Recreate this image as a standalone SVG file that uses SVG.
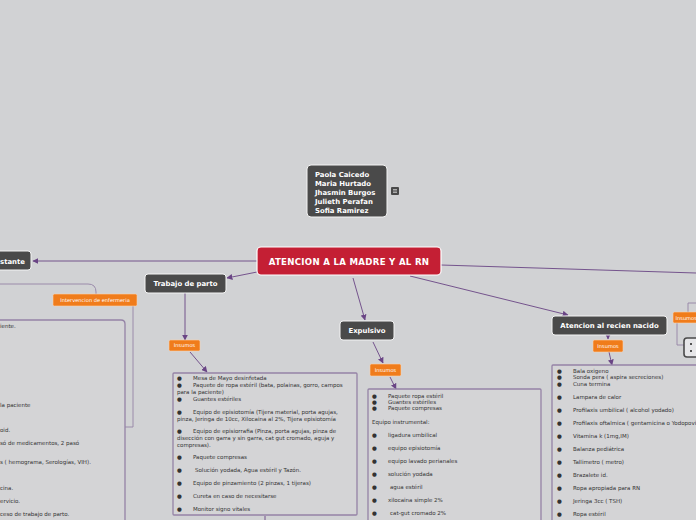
<svg xmlns="http://www.w3.org/2000/svg" width="696" height="520" viewBox="0 0 696 520">
<defs>
<marker id="ah" viewBox="0 0 10 10" refX="9" refY="5" markerWidth="6" markerHeight="6" orient="auto-start-reverse" markerUnits="userSpaceOnUse">
<path d="M0,0 L10,5 L0,10 z" fill="#6a4585"/>
</marker>
<style>
.bg{fill:#d1d2d4}
.node{fill:#4a4a4a;stroke:#f4f4f4;stroke-width:1}
.lbl{font-family:"DejaVu Sans",Verdana,sans-serif;font-weight:bold;fill:#ffffff;font-size:6.9px}
.or{fill:#f07c1b;stroke:#fbd3b0;stroke-width:0.6}
.olbl{font-family:"DejaVu Sans",Verdana,sans-serif;fill:#ffffff;font-size:5.1px}
.box{fill:#d4d4d6;stroke:#9583a6;stroke-width:1.3}
.t{font-family:"DejaVu Sans",Verdana,sans-serif;fill:#333333;font-size:5.5px}
.c{fill:none;stroke:#6a4585;stroke-width:0.9}
.cl{fill:none;stroke:#9583a6;stroke-width:0.9}
</style>
</defs>
<rect class="bg" x="0" y="0" width="696" height="520"/>

<g id="connectors">
<line class="c" x1="257" y1="261" x2="33" y2="261" marker-end="url(#ah)"/>
<line class="c" x1="441" y1="265" x2="696" y2="273"/>
<line class="c" x1="257" y1="272" x2="227" y2="278" marker-end="url(#ah)"/>
<line class="c" x1="353" y1="278" x2="365" y2="320" marker-end="url(#ah)"/>
<line class="c" x1="410" y1="276" x2="568" y2="315" marker-end="url(#ah)"/>
<line class="c" x1="185" y1="293" x2="185" y2="340" marker-end="url(#ah)"/>
<line class="c" x1="190" y1="352" x2="207" y2="372" marker-end="url(#ah)"/>
<line class="c" x1="373" y1="342" x2="383" y2="363" marker-end="url(#ah)"/>
<line class="c" x1="390" y1="377" x2="396" y2="389" marker-end="url(#ah)"/>
<line class="c" x1="608" y1="335" x2="608" y2="339" marker-end="url(#ah)"/>
<line class="c" x1="609" y1="352" x2="612" y2="365" marker-end="url(#ah)"/>
<line class="c" x1="265" y1="516" x2="265" y2="520"/>
<path class="cl" d="M0,284 H88 Q96,284 96,292 V294"/>
<path class="cl" d="M133,306 V427 H125"/>
<path class="cl" d="M688,312 V303 H696"/>
<path class="cl" d="M677,323 V345 H684"/>
</g>

<g id="names">
<rect class="node" x="307" y="165" width="80" height="52" rx="4"/>
<text class="lbl" x="315" y="177">Paola Caicedo</text>
<text class="lbl" x="315" y="186">Maria Hurtado</text>
<text class="lbl" x="315" y="195">Jhasmin Burgos</text>
<text class="lbl" x="315" y="204">Julieth Perafan</text>
<text class="lbl" x="315" y="213">Sofia Ramirez</text>
<rect x="391" y="187" width="8" height="8" rx="1" fill="#4a4a4a"/>
<path d="M393,189.5 H397 M393,191 H397 M393,192.5 H397" stroke="#d8d8d8" stroke-width="0.7"/>
</g>

<g id="central">
<rect x="257" y="247" width="184" height="28" rx="4" fill="#c41f34" stroke="#ffffff" stroke-width="1.2"/>
<text class="lbl" x="349" y="265" text-anchor="middle" style="font-size:8.6px;letter-spacing:0.3px">ATENCION A LA MADRE Y AL RN</text>
</g>

<g id="left-node">
<rect class="node" x="-6" y="251" width="37" height="19" rx="3"/>
<text class="lbl" x="25" y="263.5" text-anchor="end">stante</text>
</g>

<g id="trabajo">
<rect class="node" x="145" y="274" width="81" height="19" rx="3"/>
<text class="lbl" x="185.5" y="286" text-anchor="middle">Trabajo de parto</text>
</g>

<g id="expulsivo">
<rect class="node" x="340" y="321" width="54" height="19" rx="3"/>
<text class="lbl" x="367" y="333" text-anchor="middle">Expulsivo</text>
</g>

<g id="recien">
<rect class="node" x="552" y="316" width="115" height="19" rx="3"/>
<text class="lbl" x="609.5" y="328" text-anchor="middle">Atencion al recien nacido</text>
</g>

<g id="intervencion">
<rect class="or" x="53" y="294" width="84" height="12" rx="1.5"/>
<text class="olbl" x="95" y="301.9" text-anchor="middle">Intervencion de enfermeria</text>
</g>

<g id="insumos-trabajo">
<rect class="or" x="169" y="340" width="31" height="11" rx="1.5"/>
<text class="olbl" x="184.5" y="347.4" text-anchor="middle">Insumos</text>
</g>

<g id="insumos-expulsivo">
<rect class="or" x="370" y="364" width="31" height="12" rx="1.5"/>
<text class="olbl" x="385.5" y="371.9" text-anchor="middle">Insumos</text>
</g>

<g id="insumos-recien">
<rect class="or" x="593" y="340" width="30" height="12" rx="1.5"/>
<text class="olbl" x="608" y="347.9" text-anchor="middle">Insumos</text>
</g>

<g id="insumos-right">
<rect class="or" x="673" y="312" width="30" height="11" rx="1.5"/>
<text class="olbl" x="675.5" y="319.5">Insumos</text>
</g>

<g id="right-box">
<rect x="684" y="338" width="18" height="19" rx="3" fill="#e6e6e8" stroke="#4a4a4a" stroke-width="1.6"/>
<circle cx="691" cy="344" r="1" fill="#222"/>
<circle cx="691" cy="351" r="1" fill="#222"/>
</g>

<g id="left-list">
<path class="box" d="M-5,320 H121 Q125,320 125,324 V525 H-5 z"/>
<text class="t" x="0" y="328">iente.</text>
<text class="t" x="0" y="407">la paciente</text>
<text class="t" x="0" y="432">oid.</text>
<text class="t" x="0" y="445">só de medicamentos, 2 pasó</text>
<text class="t" x="0" y="464">s ( hemograma, Serologías, VIH).</text>
<text class="t" x="0" y="490">cina.</text>
<text class="t" x="0" y="503">ervicio.</text>
<text class="t" x="0" y="516">ceso de trabajo de parto.</text>
</g>

<g id="trabajo-list">
<rect class="box" x="173" y="373" width="184" height="142" rx="1"/>
<g class="t">
<text x="177" y="380">●</text><text x="193" y="380">Mesa de Mayo desinfetada</text>
<text x="177" y="387">●</text><text x="193" y="387">Paquete de ropa estéril (bata, polainas, gorro, campos</text>
<text x="177" y="394">para la paciente)</text>
<text x="177" y="401">●</text><text x="193" y="401">Guantes estériles</text>
<text x="177" y="414">●</text><text x="193" y="414">Equipo de episiotomía (Tijera material, porta agujas,</text>
<text x="177" y="421">pinza, Jeringa de 10cc, Xilocaina al 2%, Tijera episiotomía</text>
<text x="177" y="433">●</text><text x="193" y="433">Equipo de episiorrafia (Pinza, porta agujas, pinza de</text>
<text x="177" y="440">disección con garra y sin garra, cat gut cromado, aguja y</text>
<text x="177" y="447">compresas).</text>
<text x="177" y="459">●</text><text x="193" y="459">Paquete compresas</text>
<text x="177" y="472">●</text><text x="195" y="472">Solución yodada, Agua estéril y Tazón.</text>
<text x="177" y="485">●</text><text x="193" y="485">Equipo de pinzamiento (2 pinzas,  1 tijeras)</text>
<text x="177" y="498">●</text><text x="193" y="498">Cureta en caso de necesitarse</text>
<text x="177" y="511">●</text><text x="193" y="511">Monitor signo vitales</text>
</g>
</g>

<g id="expulsivo-list">
<rect class="box" x="368" y="389" width="173" height="136" rx="1"/>
<g class="t">
<text x="372" y="398">●</text><text x="388" y="398">Paquete ropa estéril</text>
<text x="372" y="404">●</text><text x="388" y="404">Guantes estériles</text>
<text x="372" y="410">●</text><text x="388" y="410">Paquete compresas</text>
<text x="372" y="424">Equipo instrumental:</text>
<text x="372" y="437">●</text><text x="388" y="437">ligadura umbilical</text>
<text x="372" y="450">●</text><text x="388" y="450">equipo episiotomía</text>
<text x="372" y="463">●</text><text x="388" y="463">equipo lavado perianales</text>
<text x="372" y="476">●</text><text x="388" y="476">solución yodada</text>
<text x="372" y="489">●</text><text x="390" y="489">agua estéril</text>
<text x="372" y="502">●</text><text x="388" y="502">xilocaina simple 2%</text>
<text x="372" y="515">●</text><text x="390" y="515">cat-gut cromado 2%</text>
</g>
</g>

<g id="recien-list">
<rect class="box" x="552" y="365" width="150" height="160" rx="1"/>
<g class="t">
<text x="557" y="373">●</text><text x="573" y="373">Bala oxigeno</text>
<text x="557" y="379">●</text><text x="573" y="379">Sonda pera ( aspira secreciones)</text>
<text x="557" y="385.5">●</text><text x="573" y="385.5">Cuna termina</text>
<text x="557" y="399">●</text><text x="573" y="399">Lampara de calor</text>
<text x="557" y="412">●</text><text x="573" y="412">Profilaxis umbilical ( alcohol yodado)</text>
<text x="557" y="425">●</text><text x="573" y="425">Profilaxis oftalmica ( gentamicina o Yodopovidona)</text>
<text x="557" y="438">●</text><text x="573" y="438">Vitamina k (1mg,IM)</text>
<text x="557" y="451">●</text><text x="573" y="451">Balanza pediátrica</text>
<text x="557" y="464">●</text><text x="573" y="464">Tallimetro ( metro)</text>
<text x="557" y="477">●</text><text x="573" y="477">Brazalete id.</text>
<text x="557" y="490">●</text><text x="573" y="490">Ropa apropiada para RN</text>
<text x="557" y="503">●</text><text x="573" y="503">Jeringa 3cc ( TSH)</text>
<text x="557" y="516">●</text><text x="573" y="516">Ropa estéril</text>
</g>
</g>
</svg>
